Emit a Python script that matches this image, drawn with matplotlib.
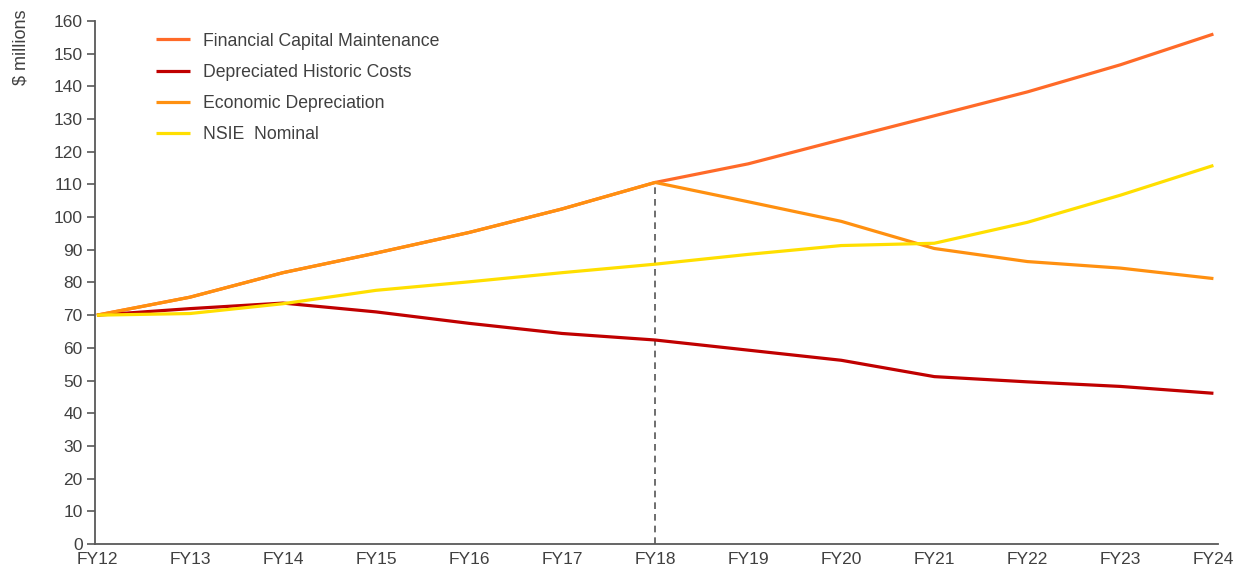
import matplotlib.pyplot as plt

plt.rcParams["font.family"] = ["Liberation Sans", "DejaVu Sans"]

# 财年类别
years = ["FY12", "FY13", "FY14", "FY15", "FY16", "FY17", "FY18",
         "FY19", "FY20", "FY21", "FY22", "FY23", "FY24"]

# 各序列数值 ($ millions)
fcm = [70, 75.5, 83, 89, 95.3, 102.5, 110.6, 116.3, 123.7, 131, 138.3, 146.6, 156]
dhc = [70, 72, 73.7, 71, 67.5, 64.4, 62.4, 59.3, 56.2, 51.2, 49.6, 48.2, 46.1]
econ_dep = [70, 75.5, 83, 89, 95.3, 102.5, 110.6, 104.7, 98.7, 90.4, 86.4, 84.4, 81.2]
nsie = [70, 70.5, 73.5, 77.6, 80.2, 83, 85.6, 88.6, 91.3, 92, 98.4, 106.7, 115.8]

series = [
    ("Financial Capital Maintenance", fcm, "#ff6a28"),
    ("Depreciated Historic Costs", dhc, "#c00000"),
    ("Economic Depreciation", econ_dep, "#ff9010"),
    ("NSIE  Nominal", nsie, "#ffdf00"),
]

TEXT_COLOR = "#404040"
AXIS_COLOR = "#595959"

fig = plt.figure(figsize=(12.52, 5.72), dpi=100)
ax = fig.add_axes([0.0759, 0.049, 0.897, 0.9143])

x = list(range(len(years)))

# 先画虚线，让曲线压在上面
split = years.index("FY18")
ax.plot([split, split], [0, fcm[split]], color="#555555", lw=1.2,
        ls=(0, (4, 3)), zorder=1)

for label, vals, color in series:
    ax.plot(x, vals, color=color, lw=2.3, label=label, zorder=2,
            solid_capstyle="butt")

ax.set_xlim(-0.02, 12.05)
ax.set_ylim(0, 160)
ax.set_yticks(range(0, 161, 10))
ax.set_xticks(x)
ax.set_xticklabels(years)

for side in ("top", "right"):
    ax.spines[side].set_visible(False)
for side in ("left", "bottom"):
    ax.spines[side].set_color(AXIS_COLOR)
    ax.spines[side].set_linewidth(1.3)

ax.tick_params(axis="y", direction="out", length=6, width=1.2,
               color=AXIS_COLOR, labelcolor=TEXT_COLOR, labelsize=12.5, pad=3)
ax.tick_params(axis="x", length=0, labelcolor=TEXT_COLOR, labelsize=12.5, pad=6)

fig.text(0.017, 0.918, "$ millions", rotation=90, ha="center", va="center",
         fontsize=13, color=TEXT_COLOR)

ax.legend(loc="upper left", bbox_to_anchor=(0.045, 0.998), frameon=False,
          fontsize=12.7, labelcolor=TEXT_COLOR, handlelength=1.9,
          handletextpad=0.75, labelspacing=0.8, borderaxespad=0.2)

fig.savefig("out.png", dpi=100)
